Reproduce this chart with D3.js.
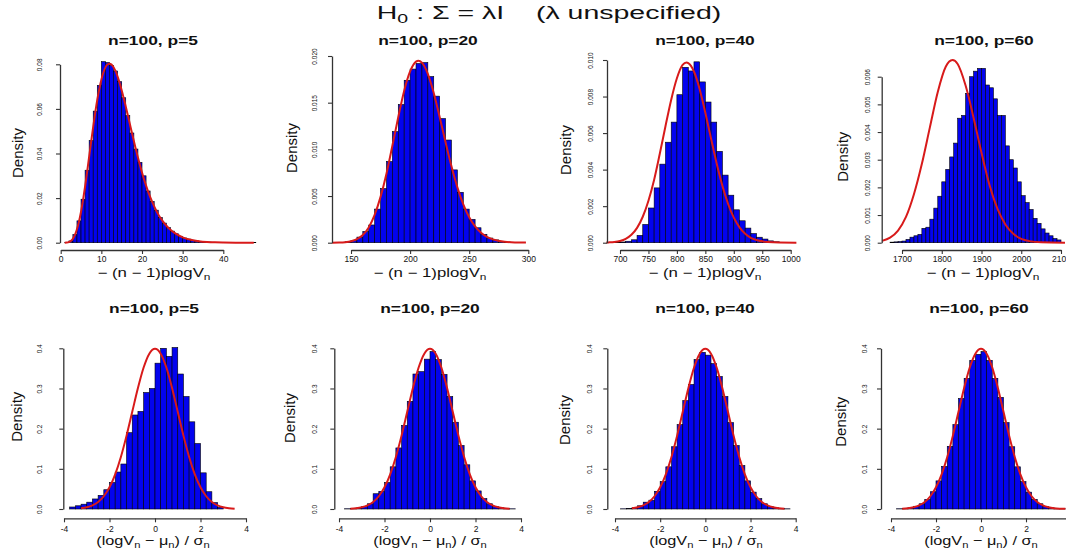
<!DOCTYPE html>
<html>
<head>
<meta charset="utf-8">
<script src="https://cdn.jsdelivr.net/npm/d3@7/dist/d3.min.js"></script>
<style>
  body { margin: 0; background: #fff; }
  svg { display: block; font-family: "Liberation Sans", Arial, Helvetica, sans-serif; }
</style>
</head>
<body>
<div id="chart"></div>
<script>
// ---------- values ----------
const sampleSize = 100
const dims = [5, 20, 40, 60]

// top row: histograms of -(n-1)plogVn, first break and bin width
const statBreakStart = [1, 140, 690, 1670]
const statBreakWidth = [1, 5, 10, 10]

const statP5 = [0.0001, 0.0008, 0.0036, 0.0098, 0.0195, 0.0325, 0.0458, 0.0590, 0.0705, 0.0812,
  0.0808, 0.0795, 0.0770, 0.0722, 0.0650, 0.0570, 0.0492, 0.0420, 0.0360, 0.0300,
  0.0232, 0.0185, 0.0146, 0.0113, 0.0088, 0.0068, 0.0052, 0.0040, 0.0029, 0.0021,
  0.0016, 0.0011, 0.0008, 0.0006, 0.0004, 0.0003, 0.0002, 0.00015, 0.0001, 0.00008,
  0.00006, 0.00004, 0.00003, 0.00002, 0.00002, 0.00001, 0.00001]
const statP20 = [0.00004, 0.0001, 0.00025, 0.0006, 0.0012, 0.0019, 0.0036, 0.0058, 0.0087, 0.0119,
  0.0148, 0.0174, 0.0186, 0.0192, 0.0193, 0.0178, 0.0157, 0.0133, 0.0110, 0.0078,
  0.0054, 0.0036, 0.0025, 0.0016, 0.0009, 0.0005, 0.0003, 0.00015, 0.00007, 0.00004, 0.00002]
const statP40 = [0.00002, 0.00004, 0.00008, 0.00016, 0.0004, 0.0010, 0.0019, 0.0030, 0.0043, 0.0055,
  0.0066, 0.0081, 0.0096, 0.0094, 0.0099, 0.0088, 0.0077, 0.0066, 0.0050, 0.0037,
  0.0026, 0.0018, 0.0012, 0.0008, 0.0005, 0.0003, 0.0002, 0.0001, 0.00005, 0.00002]
const statP60 = [0.00002, 0.00003, 0.00004, 0.00006, 0.00012, 0.0002, 0.00025, 0.0003, 0.00052, 0.00056,
  0.00085, 0.00125, 0.00168, 0.0022, 0.00265, 0.0031, 0.0036, 0.0045, 0.0046, 0.0054,
  0.0060, 0.0062, 0.0063, 0.0063, 0.0057, 0.0056, 0.0052, 0.0046, 0.0046, 0.0035,
  0.0030, 0.0027, 0.0022, 0.0017, 0.00145, 0.0012, 0.00088, 0.0007, 0.0005, 0.00035,
  0.00025, 0.00015, 0.0001]

// red reference curves (x, density)
const chiCurveP5 = [[1, 0.000007], [1.5, 0.00006], [2, 0.00026], [2.5, 0.00076], [3, 0.00177], [3.5, 0.00347],
  [4, 0.0060], [4.5, 0.0095], [5, 0.0139], [5.5, 0.0192], [6, 0.0252], [6.5, 0.0318], [7, 0.0386],
  [7.5, 0.0454], [8, 0.0521], [8.5, 0.0584], [9, 0.0641], [9.5, 0.0690], [10, 0.0731], [10.5, 0.0763],
  [11, 0.0786], [11.5, 0.0799], [12, 0.0803], [12.5, 0.0799], [13, 0.0787], [13.5, 0.0769], [14, 0.0745],
  [15, 0.0684], [16, 0.0611], [17, 0.0533], [18, 0.0456], [19, 0.0382], [20, 0.0315], [21, 0.0256],
  [22, 0.0205], [23, 0.0163], [24, 0.0127], [25, 0.0099], [26, 0.0076], [27, 0.0058], [28, 0.0044],
  [30, 0.0024], [32, 0.0013], [34, 0.0007], [36, 0.00036], [38, 0.00018], [40, 0.00009], [43, 0.00003],
  [47.5, 0.000005]]
const chiCurveP20 = [[134, 0.000004], [140, 0.000018], [145, 0.000056], [150, 0.000154], [155, 0.00038],
  [160, 0.00083], [165, 0.00164], [170, 0.00298], [175, 0.00491], [180, 0.00739], [185, 0.01038],
  [190, 0.01346], [195, 0.01629], [200, 0.01835], [205, 0.0194], [207, 0.0195], [210, 0.01929],
  [215, 0.01809], [220, 0.01604], [225, 0.01347], [230, 0.01076], [235, 0.00818], [240, 0.00593],
  [245, 0.00411], [250, 0.00273], [255, 0.00174], [260, 0.00107], [265, 0.00063], [270, 0.00036],
  [280, 0.0001], [290, 0.000027], [298, 0.000008]]
const chiCurveP40 = [[676, 0.000008], [680, 0.000015], [690, 0.00004], [700, 0.000095], [710, 0.00021],
  [720, 0.00043], [730, 0.00081], [740, 0.00142], [750, 0.0023], [760, 0.00345], [770, 0.00488],
  [780, 0.00639], [790, 0.00783], [800, 0.0090], [810, 0.00973], [817, 0.00986], [820, 0.00983],
  [830, 0.00937], [840, 0.0084], [850, 0.00711], [860, 0.0057], [870, 0.00432], [880, 0.00311],
  [890, 0.00212], [900, 0.00137], [910, 0.00084], [920, 0.00049], [930, 0.00027], [940, 0.000146],
  [960, 0.000036], [980, 0.000007], [1010, 0.000001]]
const chiCurveP60 = [[1650, 0.000067], [1670, 0.000184], [1690, 0.00044], [1710, 0.00093], [1730, 0.00175],
  [1750, 0.00285], [1770, 0.00416], [1790, 0.00545], [1810, 0.00636], [1827, 0.0066], [1840, 0.00646],
  [1860, 0.00568], [1880, 0.00452], [1900, 0.00325], [1920, 0.00209], [1940, 0.00123], [1960, 0.00066],
  [1980, 0.00032], [2000, 0.00014], [2020, 0.000057], [2050, 0.000012], [2110, 0.000001]]

const statXTicks = [[0, 10, 20, 30, 40], [150, 200, 250, 300],
  [700, 750, 800, 850, 900, 950, 1000], [1700, 1800, 1900, 2000, 2100]]
const statYTicks = [[0, 0.02, 0.04, 0.06, 0.08], [0, 0.005, 0.01, 0.015, 0.02],
  [0, 0.002, 0.004, 0.006, 0.008, 0.01], [0, 0.001, 0.002, 0.003, 0.004, 0.005, 0.006]]
const statYFormat = [".2f", ".3f", ".3f", ".3f"]

// bottom row: standardised statistic
const normBreakStart = -3.75
const normBreakWidth = 0.25
const normP5 = [0.005, 0.008, 0.012, 0.017, 0.025, 0.034, 0.048, 0.066, 0.092, 0.112,
  0.19, 0.234, 0.243, 0.29, 0.30, 0.363, 0.40, 0.38, 0.402, 0.336,
  0.28, 0.217, 0.163, 0.09, 0.043, 0.016, 0.004]
const normP20 = [0.0006, 0.0012, 0.0025, 0.006, 0.013, 0.038, 0.044, 0.066, 0.105, 0.152,
  0.208, 0.268, 0.336, 0.342, 0.373, 0.392, 0.372, 0.335, 0.28, 0.216,
  0.158, 0.11, 0.07, 0.045, 0.026, 0.013, 0.006, 0.003, 0.0012, 0.0005]
const normP40 = [0.0005, 0.0012, 0.003, 0.008, 0.017, 0.022, 0.044, 0.068, 0.105, 0.155,
  0.21, 0.27, 0.31, 0.372, 0.39, 0.383, 0.362, 0.33, 0.28, 0.215,
  0.158, 0.108, 0.07, 0.042, 0.026, 0.013, 0.006, 0.003, 0.0012, 0.0005]
const normP60 = [0.0006, 0.0014, 0.003, 0.0068, 0.013, 0.024, 0.043, 0.07, 0.106, 0.156,
  0.21, 0.275, 0.325, 0.37, 0.385, 0.392, 0.37, 0.325, 0.278, 0.215,
  0.155, 0.105, 0.068, 0.042, 0.024, 0.013, 0.0066, 0.003, 0.0014, 0.0006]

const normalCurve = [[-3.75, 0.00035], [-3.5, 0.00087], [-3.25, 0.00203], [-3, 0.00443], [-2.75, 0.00909],
  [-2.5, 0.01753], [-2.25, 0.03174], [-2, 0.05399], [-1.75, 0.08628], [-1.5, 0.12952], [-1.25, 0.18265],
  [-1, 0.24197], [-0.75, 0.30114], [-0.5, 0.35207], [-0.25, 0.38667], [0, 0.39894], [0.25, 0.38667],
  [0.5, 0.35207], [0.75, 0.30114], [1, 0.24197], [1.25, 0.18265], [1.5, 0.12952], [1.75, 0.08628],
  [2, 0.05399], [2.25, 0.03174], [2.5, 0.01753], [2.75, 0.00909], [3, 0.00443], [3.25, 0.00203],
  [3.5, 0.00087], [3.75, 0.00035]]
const normCurveRange = [[-3.25, 3.5], [-3.5, 3.5], [-3.25, 3.5], [-3.5, 3.75]]
const normXTicks = [-4, -2, 0, 2, 4]
const normYTicks = [0, 0.1, 0.2, 0.3, 0.4]

// ---------- drawing ----------
drawFigure("#chart")

function drawFigure(id){
    const canvas = createCanvas()
    const svg = addSvg(id, canvas)
    addMainTitle(svg)

    const statData = [statP5, statP20, statP40, statP60]
    const statCurves = [chiCurveP5, chiCurveP20, chiCurveP40, chiCurveP60]
    const normData = [normP5, normP20, normP40, normP60]

    dims.forEach((p, i) => {
        drawPanel(svg, canvas, canvas.top, canvas.panels.top[i], {
            title: `n=${sampleSize}, p=${p}`,
            bars: toBins(statData[i], statBreakStart[i], statBreakWidth[i]),
            curve: statCurves[i],
            xTicks: statXTicks[i], yTicks: statYTicks[i], yFormat: statYFormat[i],
            xLabel: "stat"
        })
        const [lo, hi] = normCurveRange[i]
        drawPanel(svg, canvas, canvas.bottom, canvas.panels.bottom[i], {
            title: `n=${sampleSize}, p=${p}`,
            bars: toBins(normData[i], normBreakStart, normBreakWidth),
            curve: normalCurve.filter(d => d[0] >= lo && d[0] <= hi),
            xTicks: normXTicks, yTicks: normYTicks, yFormat: ".1f",
            xLabel: "norm"
        })
    })
}

function createCanvas(){
    return {
        width: 1066, height: 554,
        top: { base: 242.7, axis: 250, tickY: 262, labelY: 277, titleY: 45 },
        bottom: { base: 509, axis: 518.3, tickY: 532, labelY: 545, titleY: 312.5 },
        panels: {
            top: [
                { xr: [60.7, 223.3], left: 60, yTop: 64.3, yLab: 40, dens: [18, 153], title: 153, xlab: 154 },
                { xr: [351, 528.3], left: 332, yTop: 56, yLab: 315, dens: [291.7, 148], title: 428, xlab: 430 },
                { xr: [620, 790.7], left: 607, yTop: 60, yLab: 591, dens: [566, 150], title: 705, xlab: 705 },
                { xr: [902, 1061], left: 881.7, yTop: 76.7, yLab: 868, dens: [842.7, 156.7], title: 984, xlab: 983 }
            ],
            bottom: [
                { xr: [64, 246], left: 63.3, yTop: 348.3, yLab: 40, dens: [16.7, 416.7], title: 154, xlab: 153 },
                { xr: [339, 521], left: 334.3, yTop: 348.3, yLab: 315, dens: [290, 418], title: 430, xlab: 430 },
                { xr: [615, 795.7], left: 607.3, yTop: 348.3, yLab: 590, dens: [565, 420], title: 705, xlab: 706 },
                { xr: [891, 1071], left: 881, yTop: 348.3, yLab: 864.3, dens: [841, 421.7], title: 979, xlab: 981 }
            ]
        }
    }
}

function addSvg(id, canvas){
    return d3.select(id).append("svg")
        .attr("width", canvas.width).attr("height", canvas.height)
        .attr("viewBox", `0 0 ${canvas.width} ${canvas.height}`)
}

function toBins(density, start, width){
    return density.map((d, i) => ({ x0: start + i * width, x1: start + (i + 1) * width, density: d }))
}

function addMainTitle(svg){
    const g = svg.append("g").attr("transform", "translate(549,18.5)")
    const t = g.append("text").attr("text-anchor", "middle").attr("font-size", 19)
        .attr("fill", "#111").style("white-space", "pre")
        .attr("transform", "scale(1.5,1)")
    t.append("tspan").text("H")
    t.append("tspan").attr("font-size", 13).attr("dy", 4).text("0")
    t.append("tspan").attr("dy", -4).text(" : Σ = λI    (λ unspecified)")
}

function drawPanel(svg, canvas, row, box, panel){
    const g = svg.append("g")
    const xt = panel.xTicks, yt = panel.yTicks
    const x = d3.scaleLinear().domain([xt[0], xt[xt.length - 1]]).range(box.xr)
    const y = d3.scaleLinear().domain([0, yt[yt.length - 1]]).range([row.base, box.yTop])

    // histogram bars
    g.append("g").selectAll("rect").data(panel.bars).join("rect")
        .attr("x", d => x(d.x0)).attr("width", d => x(d.x1) - x(d.x0))
        .attr("y", d => y(d.density)).attr("height", d => row.base - y(d.density))
        .attr("fill", "#0303ee").attr("stroke", "#000").attr("stroke-width", 0.6)

    // reference density
    const line = d3.line().x(d => x(d[0])).y(d => y(d[1])).curve(d3.curveMonotoneX)
    g.append("path").datum(panel.curve).attr("d", line)
        .attr("fill", "none").attr("stroke", "#d81a1a").attr("stroke-width", 2)

    addAxes(g, x, y, canvas, row, box, panel)
    addLabels(g, row, box, panel)
}

function addAxes(g, x, y, canvas, row, box, panel){
    const xt = panel.xTicks
    const xAxis = g.append("g").attr("transform", `translate(0,${row.axis})`)
        .call(d3.axisBottom(x).tickValues(xt).tickSize(4).tickSizeOuter(0).tickFormat(d => String(d)))
    styleAxis(xAxis)
    xAxis.selectAll("text").attr("y", row.tickY - row.axis).attr("dy", 0)
    // labels whose centre falls past the right edge are off the page in the figure
    xAxis.selectAll(".tick").filter(d => x(d) > canvas.width).select("text").remove()

    const yAxis = g.append("g").attr("transform", `translate(${box.left},0)`)
        .call(d3.axisLeft(y).tickValues(panel.yTicks).tickSize(4).tickSizeOuter(0).tickFormat(d3.format(panel.yFormat)))
    styleAxis(yAxis)
    yAxis.selectAll("text").attr("font-size", 6.5)
        .attr("x", 0).attr("dy", "0.35em").attr("text-anchor", "middle")
        .attr("transform", `translate(${box.yLab - box.left},0) rotate(-90)`)
}

function styleAxis(a){
    a.attr("font-family", null).attr("font-size", 8.5)
    a.select(".domain").attr("stroke", "#333").attr("stroke-width", 1.3)
    a.selectAll(".tick line").attr("stroke", "#333").attr("stroke-width", 1.1)
    a.selectAll(".tick text").attr("fill", "#111")
}

function addLabels(g, row, box, panel){
    g.append("g").attr("transform", `translate(${box.title},${row.titleY})`)
        .append("text").attr("text-anchor", "middle").attr("font-size", 12).attr("font-weight", "bold")
        .attr("fill", "#111").attr("transform", "scale(1.45,1)").text(panel.title)

    g.append("text").attr("transform", `translate(${box.dens[0]},${box.dens[1]}) rotate(-90)`)
        .attr("text-anchor", "middle").attr("dy", "0.35em").attr("font-size", 15)
        .attr("fill", "#111").text("Density")

    const lab = g.append("g").attr("transform", `translate(${box.xlab},${row.labelY})`)
        .append("text").attr("text-anchor", "middle").attr("fill", "#111").style("white-space", "pre")
    if (panel.xLabel === "stat") {
        lab.attr("font-size", 12).attr("transform", "scale(1.4,1)")
        lab.append("tspan").text("− (n − 1)plogV")
        lab.append("tspan").attr("font-size", 8.5).attr("dy", 3).text("n")
    } else {
        lab.attr("font-size", 13).attr("transform", "scale(1.25,1)")
        lab.append("tspan").text("(logV")
        lab.append("tspan").attr("font-size", 9).attr("dy", 3).text("n")
        lab.append("tspan").attr("dy", -3).text(" − μ")
        lab.append("tspan").attr("font-size", 9).attr("dy", 3).text("n")
        lab.append("tspan").attr("dy", -3).text(") / σ")
        lab.append("tspan").attr("font-size", 9).attr("dy", 3).text("n")
    }
}
</script>
</body>
</html>
